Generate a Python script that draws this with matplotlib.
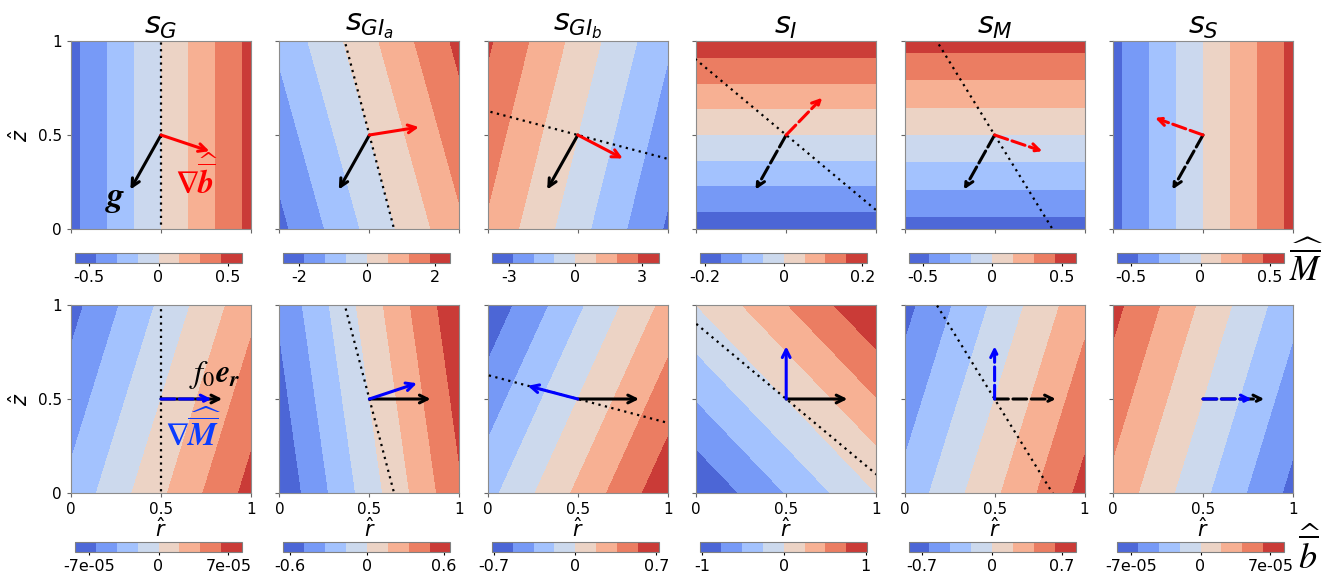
import numpy as np
import matplotlib
matplotlib.use("Agg")
import matplotlib.pyplot as plt

# ── Panel titles ─────────────────────────────────────────────
TITLES = [r"$s_G$", r"$s_{GI_a}$", r"$s_{GI_b}$", r"$s_I$", r"$s_M$", r"$s_S$"]

# ── Top row: M field (linear gradients dM/dr, dM/dz) ─────────
M_GRAD = [(1.0, 0.0), (3.12, 0.905), (-4.72, 1.22), (0.0, 0.387), (0.0, 1.03), (1.0, 0.0)]
M_LIM = [0.6, 2.46, 3.78, 0.212, 0.6, 0.6]
M_TICK = [0.5, 2, 3, 0.2, 0.5, 0.5]
M_TICKLABELS = [["-0.5", "0", "0.5"], ["-2", "0", "2"], ["-3", "0", "3"],
                ["-0.2", "0", "0.2"], ["-0.5", "0", "0.5"], ["-0.5", "0", "0.5"]]

# ── Bottom row: b field ──────────────────────────────────────
B_GRAD = [(1.06e-4, -3.43e-5), (1.083, 0.158), (0.905, -0.43), (1.0, 1.0),
          (1.05, -0.342), (-1.046e-4, 3.35e-5)]
B_LIM = [8.37e-5, 0.65, 0.72, 1.02, 0.837, 8.37e-5]
B_TICK = [7e-5, 0.6, 0.7, 1, 0.7, 7e-5]
B_TICKLABELS = [["-7e-05", "0", "7e-05"], ["-0.6", "0", "0.6"], ["-0.7", "0", "0.7"],
                ["-1", "0", "1"], ["-0.7", "0", "0.7"], ["-7e-05", "0", "7e-05"]]

# ── Arrows (vectors from the centre point) ───────────────────
G_VEC = (-0.17, -0.29)                      # gravity, black, top row
GRADB_VEC = [(0.269, -0.086), (0.275, 0.042), (0.25, -0.125),
             (0.20, 0.198), (0.265, -0.086), (-0.266, 0.091)]
TOP_STYLE = ["-", "-", "-", "--", "--", "--"]

F_VEC = (0.34, 0.0)                         # f0 e_r, black, bottom row
GRADM_VEC = [(0.28, 0.0), (0.264, 0.084), (-0.278, 0.07),
             (0.0, 0.28), (0.0, 0.28), (0.27, 0.0)]
BOT_BLACK_STYLE = ["-", "-", "-", "-", "--", "--"]
BOT_BLUE_STYLE = ["--", "-", "-", "-", "--", "--"]

# ── Dotted line directions through the centre (None = no line) ─
DOT_DIR = [(0.0, 1.0), (0.274, -1.0), (1.0, -0.254), (1.0, -0.8), (0.643, -1.0), None]

CENTER = (0.5, 0.5)
DASH = (0, (4.5, 1.5))

# ── Layout in pixels ─────────────────────────────────────────
W, H = 1333, 577
AX_L0, AX_STEP, AX_W, AX_H = 71, 208.4, 180, 188
TOP_Y, BOT_Y = 41, 305
CB_DX, CB_W, CB_H = 4, 167, 10
TOP_CB_Y, BOT_CB_Y = 253, 542


def px_rect(x, y, w, h):
    return [x / W, 1 - (y + h) / H, w / W, h / H]


def draw_arrow(ax, vec, color, ls):
    ax.annotate("", xy=(CENTER[0] + vec[0], CENTER[1] + vec[1]), xytext=CENTER,
                arrowprops=dict(arrowstyle="->", color=color, lw=2.2,
                                linestyle=ls if ls == "-" else DASH,
                                shrinkA=0, shrinkB=0, mutation_scale=14),
                zorder=5)


def draw_panel(ax, cax, grad, lim, tick, ticklabels, col):
    r = np.linspace(0, 1, 201)
    R, Z = np.meshgrid(r, r)
    field = grad[0] * (R - 0.5) + grad[1] * (Z - 0.5)
    cf = ax.contourf(R, Z, field, levels=np.linspace(-lim, lim, 9), cmap="coolwarm")
    if DOT_DIR[col] is not None:
        d = np.array(DOT_DIR[col])
        t = np.array([-3, 3])
        ax.plot(CENTER[0] + t * d[0], CENTER[1] + t * d[1], color="black",
                ls=(0, (1, 2)), lw=1.6, zorder=3)
    ax.set_xlim(0, 1)
    ax.set_ylim(0, 1)
    ax.set_xticks([0, 0.5, 1])
    ax.set_yticks([0, 0.5, 1])
    ax.tick_params(labelsize=11, length=3, color="0.4")
    for s in ax.spines.values():
        s.set_edgecolor("0.55")

    cb = plt.colorbar(cf, cax=cax, orientation="horizontal")
    cb.set_ticks([-tick, 0, tick])
    cb.set_ticklabels(ticklabels)
    cb.outline.set_edgecolor("0.5")
    cax.tick_params(labelsize=11.5, length=2, pad=3)


fig = plt.figure(figsize=(W / 100, H / 100), dpi=100)
fig.patch.set_facecolor("white")
fmt = ["0", "0.5", "1"]

for i in range(6):
    left = AX_L0 + AX_STEP * i

    # ── top row ──
    ax = fig.add_axes(px_rect(left, TOP_Y, AX_W, AX_H))
    cax = fig.add_axes(px_rect(left + CB_DX, TOP_CB_Y, CB_W, CB_H))
    draw_panel(ax, cax, M_GRAD[i], M_LIM[i], M_TICK[i], M_TICKLABELS[i], i)
    draw_arrow(ax, G_VEC, "black", TOP_STYLE[i])
    draw_arrow(ax, GRADB_VEC[i], "red", TOP_STYLE[i])
    ax.set_title(TITLES[i], fontsize=22, pad=3)
    ax.set_xticklabels([])
    if i == 0:
        ax.set_yticklabels(fmt)
        ax.set_ylabel(r"$\hat{z}$", fontsize=15, labelpad=4)
        ax.text(0.245, 0.165, r"$\mathbfit{g}$", fontsize=25, color="black",
                ha="center", va="center", math_fontfamily="stix", zorder=6)
        ax.text(0.70, 0.27, r"$\boldsymbol{\nabla}\widehat{\overline{\mathbfit{b}}}$",
                fontsize=23, color="red", ha="center", va="center",
                math_fontfamily="stix", zorder=6)
    else:
        ax.set_yticklabels([])

    # ── bottom row ──
    ax = fig.add_axes(px_rect(left, BOT_Y, AX_W, AX_H))
    cax = fig.add_axes(px_rect(left + CB_DX, BOT_CB_Y, CB_W, CB_H))
    draw_panel(ax, cax, B_GRAD[i], B_LIM[i], B_TICK[i], B_TICKLABELS[i], i)
    draw_arrow(ax, F_VEC, "black", BOT_BLACK_STYLE[i])
    draw_arrow(ax, GRADM_VEC[i], "blue", BOT_BLUE_STYLE[i])
    ax.set_xticklabels(fmt)
    ax.set_xlabel(r"$\hat{r}$", fontsize=15, labelpad=0)
    if i == 0:
        ax.set_yticklabels(fmt)
        ax.set_ylabel(r"$\hat{z}$", fontsize=15, labelpad=4)
        ax.text(0.80, 0.63, r"$f_0\mathbfit{e}_{\mathbfit{r}}$", fontsize=23,
                color="black", ha="center", va="center", math_fontfamily="stix", zorder=6)
        ax.text(0.68, 0.33, r"$\boldsymbol{\nabla}\widehat{\overline{\mathbfit{M}}}$",
                fontsize=23, color="#0a3cff", ha="center", va="center",
                math_fontfamily="stix", zorder=6)
    else:
        ax.set_yticklabels([])

# ── row labels at the right ──
fig.text(1306 / W, 1 - 264 / H, r"$\widehat{\overline{M}}$", fontsize=25,
         ha="center", va="center", math_fontfamily="stix")
fig.text(1309 / W, 1 - 552 / H, r"$\widehat{\overline{b}}$", fontsize=26,
         ha="center", va="center", math_fontfamily="stix")

plt.savefig("out.png", dpi=100, facecolor=fig.get_facecolor())
